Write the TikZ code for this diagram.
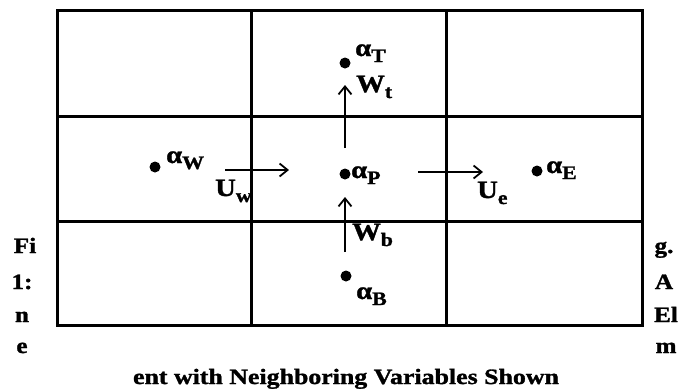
\documentclass[tikz,border=0pt]{standalone}
\usepackage{fontspec}
\setmainfont{Liberation Serif}[BoldFeatures={FakeBold=1.3}]
\usetikzlibrary{arrows.meta}
\newcommand\widetxt[1]{\scalebox{1.15}[1]{#1}}
\newcommand\lab[2]{\widetxt{#1\raisebox{-6bp}{\fontsize{19}{19}\selectfont #2}}}
\tikzset{
  grid/.style={line width=3bp},
  dotnode/.style={circle,fill=black,inner sep=0pt,minimum size=11bp},
  lbl/.style={anchor=base west,inner sep=0pt,font=\fontsize{25}{25}\selectfont\bfseries},
  flow/.style={line width=1.8bp,-{Straight Barb[length=8bp,width=13bp,line width=1.8bp]}},
  side/.style={anchor=base,inner sep=0pt,font=\fontsize{22}{22}\selectfont\bfseries},
}
\begin{document}
\begin{tikzpicture}[x=1bp,y=-1bp]
\useasboundingbox (0,0) rectangle (688,388);
% grid
\draw[grid] (57,10) rectangle (642,325);
\draw[grid] (251,10) -- (251,325);
\draw[grid] (446,10) -- (446,325);
\draw[grid] (57,116) -- (642,116);
\draw[grid] (57,221) -- (642,221);
% dots
\node[dotnode] (dT) at (345,63) {};
\node[dotnode] (dP) at (345,174) {};
\node[dotnode] (dE) at (537,171) {};
\node[dotnode] (dW) at (155,167) {};
\node[dotnode] (dB) at (346,276) {};
% labels
\node[lbl] (lT) at (355,56) {\lab{α}{T}};
\node[lbl] (lWt) at (356,92) {\lab{W}{t}};
\node[lbl] (lP) at (351,178) {\lab{α}{P}};
\node[lbl] (lE) at (546,173) {\lab{α}{E}};
\node[lbl] (lW) at (166,163) {\lab{α}{W}};
\node[lbl] (lB) at (356,299) {\lab{α}{B}};
\node[lbl] (lWb) at (352,240) {\lab{W}{b}};
\node[lbl] (lUw) at (215,196) {\lab{U}{w}};
\node[lbl] (lUe) at (477,198) {\lab{U}{e}};
% arrows
\coordinate (wt0) at (345,148);
\coordinate (wt1) at (345,85);
\coordinate (wb0) at (345,252);
\coordinate (wb1) at (345,197);
\coordinate (uw0) at (225,170);
\coordinate (uw1) at (289,170);
\coordinate (ue0) at (418,172);
\coordinate (ue1) at (483,172);
\draw[flow] (wt0) -- (wt1);
\draw[flow] (wb0) -- (wb1);
\draw[flow] (uw0) -- (uw1);
\draw[flow] (ue0) -- (ue1);
% caption fragments
\node[side] (c1) at (25,253) {\widetxt{Fi}};
\node[side] (c2) at (22,289) {\widetxt{1:}};
\node[side] (c3) at (22,322) {\widetxt{n}};
\node[side] (c4) at (22,353) {\widetxt{e}};
\node[side] (c5) at (664,253) {\widetxt{g.}};
\node[side] (c6) at (664,289) {\widetxt{A}};
\node[side] (c7) at (666,322) {\widetxt{El}};
\node[side] (c8) at (666,353) {\widetxt{m}};
\node[side,font=\fontsize{22}{22}\selectfont\bfseries] (cap) at (346,384) {\scalebox{1.18}[1]{ent with Neighboring Variables Shown}};
\end{tikzpicture}
\end{document}
